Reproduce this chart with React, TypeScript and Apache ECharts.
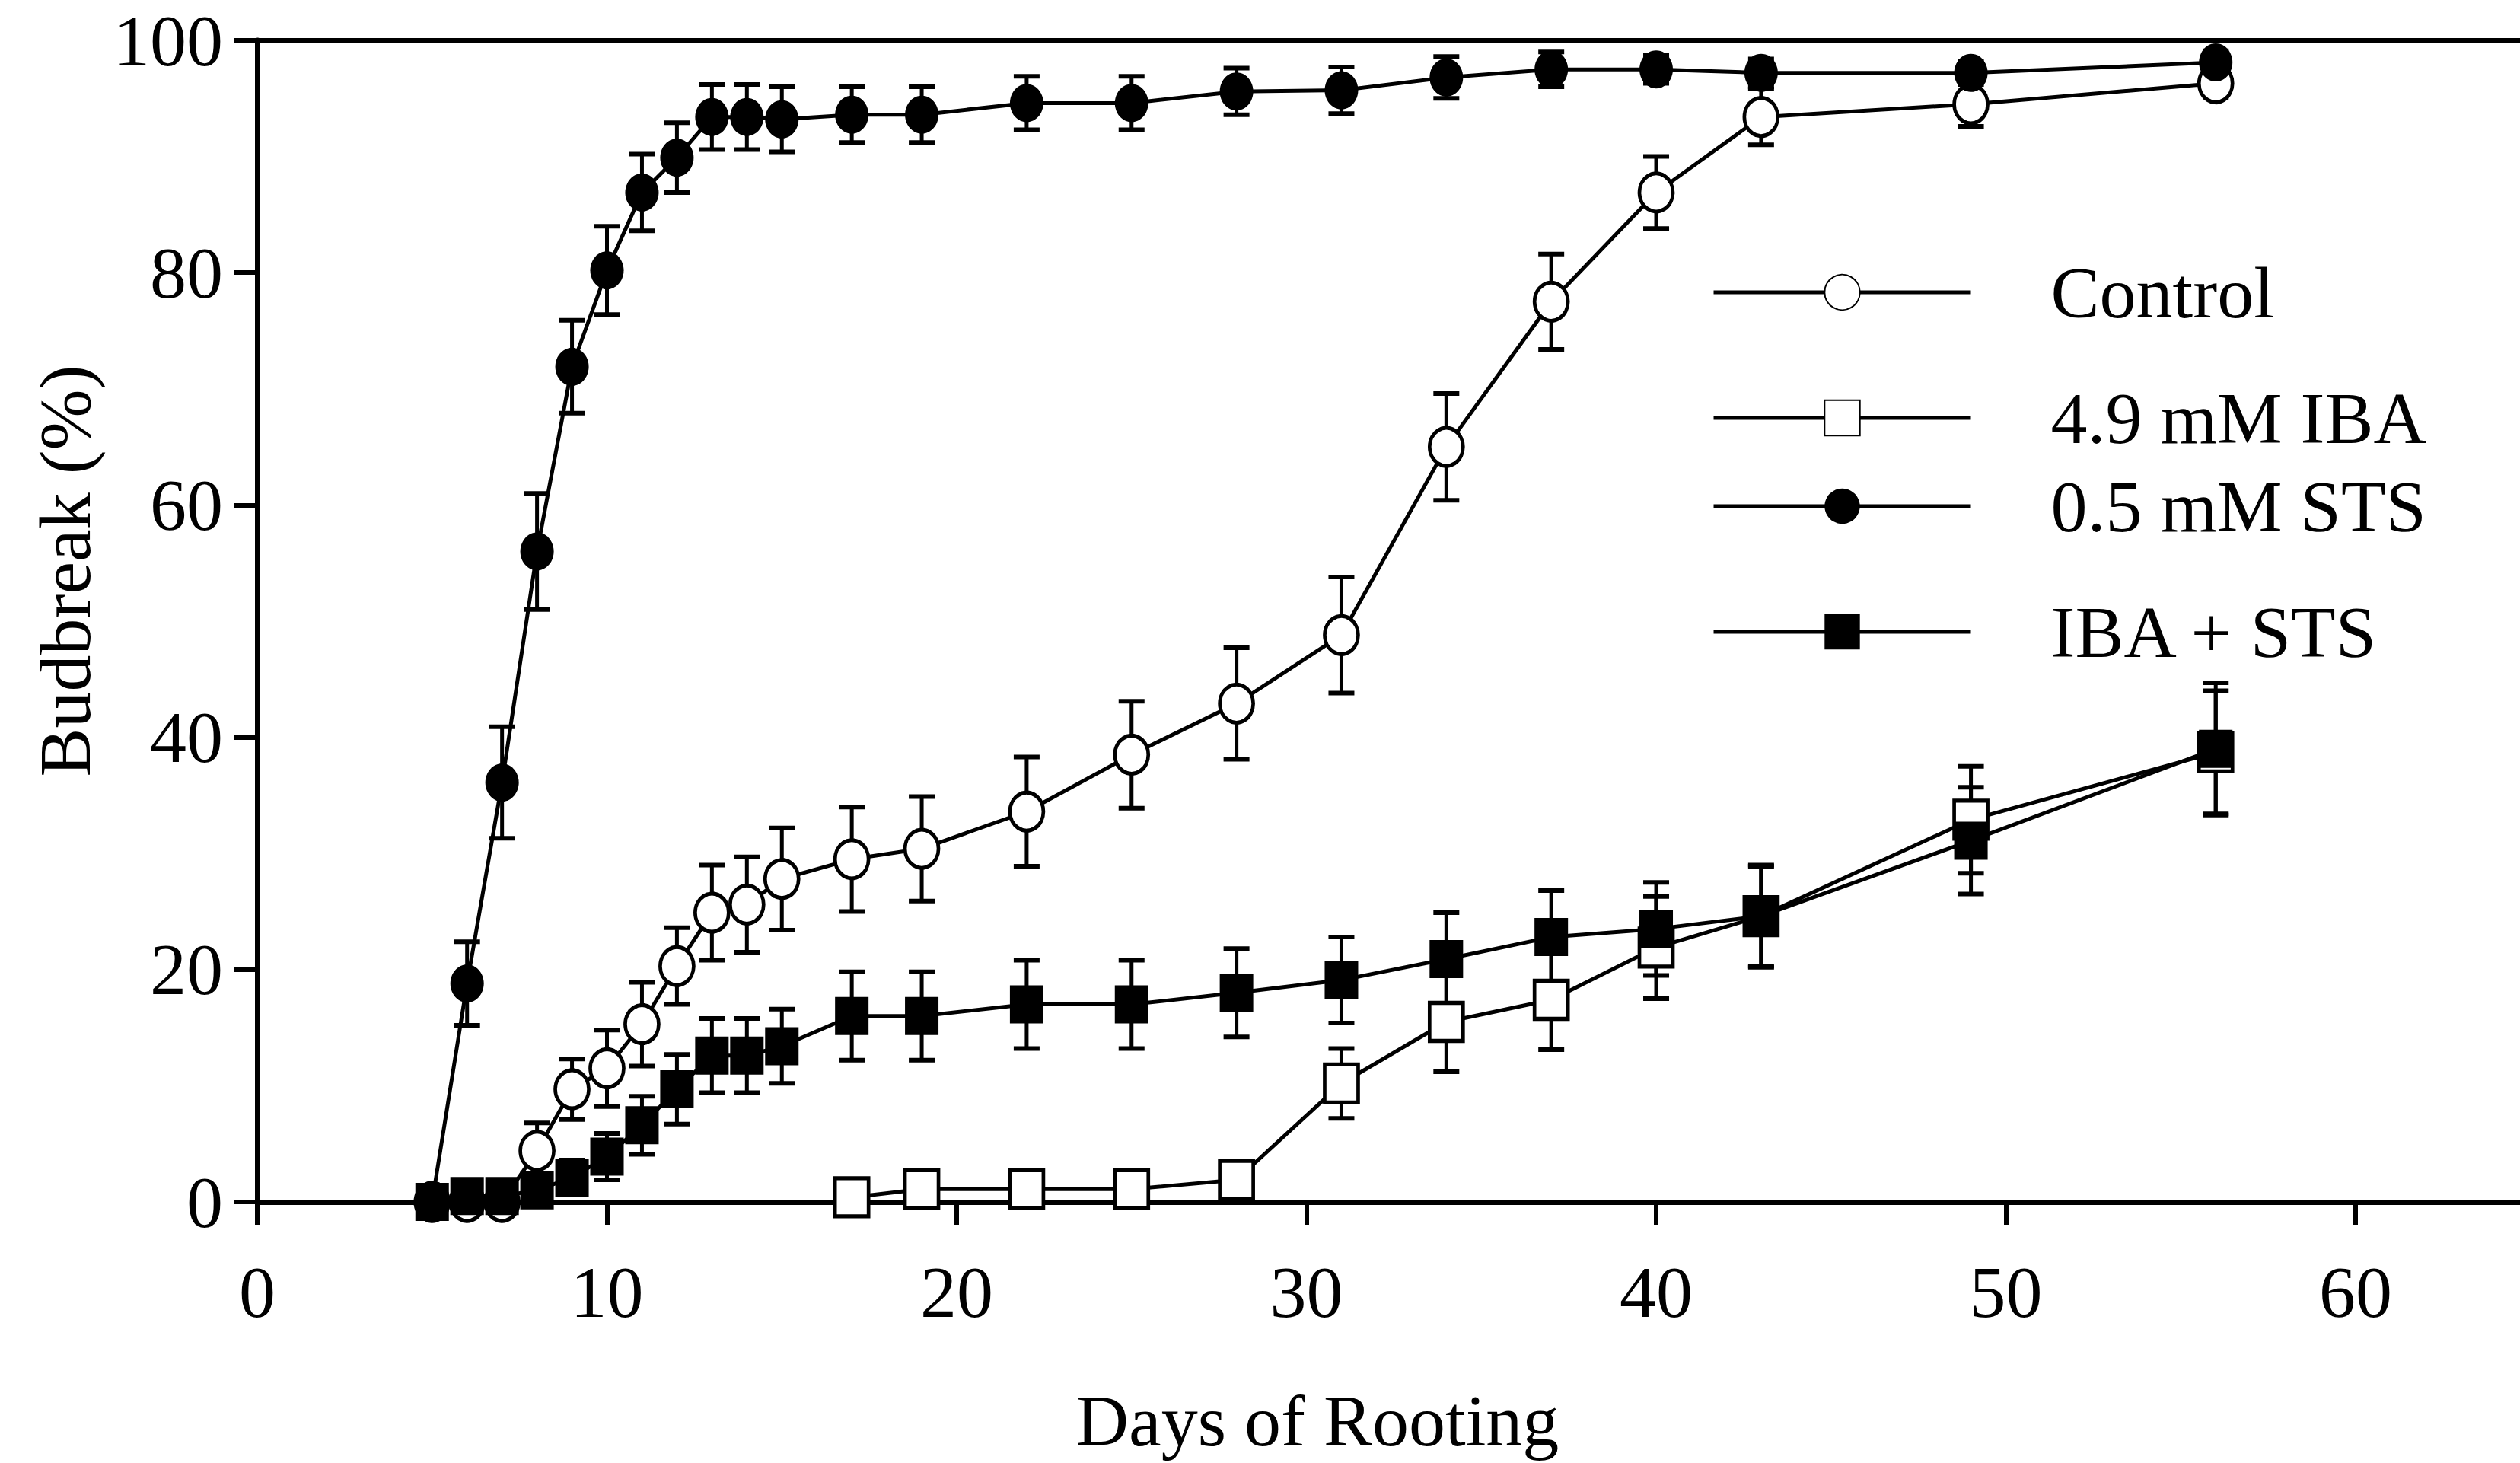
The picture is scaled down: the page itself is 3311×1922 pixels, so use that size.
import React, { useEffect, useRef } from "react";
import * as echarts from "echarts";

const days = [5, 6, 7, 8, 9, 10, 11, 12, 13, 14, 15, 17, 19, 22, 25, 28, 31, 34, 37, 40, 43, 49, 56];
const controlVals = [0, 0, 0, 4.4, 9.7, 11.5, 15.3, 20.3, 24.9, 25.6, 27.8, 29.5, 30.4, 33.6, 38.5, 42.9, 48.8, 65.0, 77.5, 86.9, 93.4, 94.5, 96.3];
const controlErr = [0, 0, 0, 2.4, 2.6, 3.3, 3.6, 3.3, 4.1, 4.1, 4.4, 4.5, 4.5, 4.7, 4.6, 4.8, 5.0, 4.6, 4.1, 3.1, 2.4, 1.9, 1.2];
const stsVals = [0, 18.8, 36.1, 56, 71.9, 80.2, 86.9, 89.9, 93.4, 93.4, 93.2, 93.6, 93.6, 94.6, 94.6, 95.6, 95.7, 96.8, 97.5, 97.5, 97.2, 97.2, 98.1];
const stsErr = [0, 3.6, 4.8, 5, 4, 3.8, 3.3, 3, 2.8, 2.8, 2.8, 2.4, 2.4, 2.3, 2.3, 2, 2, 1.8, 1.5, 1.2, 1.2, 1, 1];
const ibaStsVals = [0, 0.5, 0.5, 1, 2.1, 3.9, 6.6, 9.7, 12.6, 12.6, 13.4, 16.0, 16.0, 17.0, 17.0, 18.0, 19.1, 20.9, 22.8, 23.5, 24.6, 31.1, 39.0];
const ibaStsErr = [0, 0, 0, 0, 1.5, 2, 2.5, 3, 3.2, 3.2, 3.2, 3.8, 3.8, 3.8, 3.8, 3.8, 3.7, 4, 4, 4, 4.4, 4.6, 5.7];
const ibaDays = [17, 19, 22, 25, 28, 31, 34, 37, 40, 43, 49, 56];
const ibaVals = [0.4, 1.1, 1.1, 1.1, 1.9, 10.2, 15.5, 17.4, 21.9, 24.6, 32.9, 38.7];
const ibaErr = [0, 0, 0, 0, 0, 3, 4.3, 4.3, 4.4, 4.3, 4.6, 5.3];

const xTicks = [0, 10, 20, 30, 40, 50, 60];
const seriesNames = ["Control", "4.9 mM IBA", "0.5 mM STS", "IBA + STS"];

const FONT = "'Liberation Serif', 'Times New Roman', serif";

function pts(xs: number[], ys: number[]) {
  return xs.map((x, i) => [x, ys[i]]);
}
function errs(xs: number[], ys: number[], es: number[]) {
  return xs.map((x, i) => [x, ys[i] - es[i], ys[i] + es[i]]).filter((_, i) => es[i] > 0);
}

const errRender = (params: any, api: any) => {
  const x = api.value(0);
  const lo = api.coord([x, api.value(1)]);
  const hi = api.coord([x, api.value(2)]);
  const w = 17;
  const st = { stroke: "#000", lineWidth: 5 };
  return {
    type: "group",
    children: [
      { type: "line", shape: { x1: lo[0], y1: lo[1], x2: hi[0], y2: hi[1] }, style: st },
      { type: "line", shape: { x1: lo[0] - w, y1: lo[1], x2: lo[0] + w, y2: lo[1] }, style: { stroke: "#000", lineWidth: 6 } },
      { type: "line", shape: { x1: hi[0] - w, y1: hi[1], x2: hi[0] + w, y2: hi[1] }, style: { stroke: "#000", lineWidth: 6 } },
    ],
  };
};

export default function App() {
  const ref = useRef<HTMLDivElement>(null);
  useEffect(() => {
    if (!ref.current) return;
    const chart = echarts.init(ref.current, null, { renderer: "svg" });
    const open = { color: "#fff", borderColor: "#000", borderWidth: 5 };
    const filled = { color: "#000", borderColor: "#000", borderWidth: 0 };
    const lineStyle = { color: "#000", width: 5 };
    const symSize = [44, 50];
    const legendRows = [384, 549, 665, 830];
    chart.setOption({
      animation: false,
      backgroundColor: "#fff",
      textStyle: { fontFamily: FONT, color: "#000" },
      grid: { left: 338, right: 0, top: 53, bottom: 343 },
      legend: seriesNames.map((n, i) => ({
        data: [n],
        left: 2249,
        top: legendRows[i] - 48,
        padding: 0,
        itemWidth: 338,
        itemHeight: 58,
        lineStyle: { color: "#000", width: 5 },
        textStyle: { fontFamily: FONT, fontSize: 96, color: "#000", padding: [0, 0, 0, 100] },
        selectedMode: false,
      })),
      xAxis: [
        {
          type: "value",
          min: 0,
          max: 64.7,
          interval: 10,
          position: "bottom",
          splitLine: { show: false },
          axisLine: { onZero: false, lineStyle: { color: "#000", width: 7 } },
          axisTick: { customValues: xTicks, length: 30, lineStyle: { color: "#000", width: 6 } },
          axisLabel: { customValues: xTicks, margin: 70, fontSize: 96, fontFamily: FONT, color: "#000" },
        },
        {
          type: "value",
          min: 0,
          max: 64.7,
          position: "top",
          splitLine: { show: false },
          axisLine: { onZero: false, lineStyle: { color: "#000", width: 6 } },
          axisTick: { show: false },
          axisLabel: { show: false },
        },
      ],
      yAxis: {
        type: "value",
        min: 0,
        max: 100,
        interval: 20,
        splitLine: { show: false },
        axisLine: { onZero: false, lineStyle: { color: "#000", width: 7 } },
        axisTick: { length: 30, lineStyle: { color: "#000", width: 6 } },
        axisLabel: { margin: 45, fontSize: 96, fontFamily: FONT, color: "#000" },
      },
      graphic: [
        {
          type: "text",
          x: 85,
          y: 750,
          rotation: Math.PI / 2,
          style: { text: "Budbreak (%)", font: `96px ${FONT}`, fill: "#000", align: "center", verticalAlign: "middle" },
        },
        {
          type: "text",
          x: 1731,
          y: 1866,
          style: { text: "Days of Rooting", font: `96px ${FONT}`, fill: "#000", align: "center", verticalAlign: "middle" },
        },
      ],
      series: [
        { type: "custom", renderItem: errRender, data: errs(days, controlVals, controlErr), encode: { x: 0, y: [1, 2] }, z: 1 },
        { type: "custom", renderItem: errRender, data: errs(ibaDays, ibaVals, ibaErr), encode: { x: 0, y: [1, 2] }, z: 1 },
        { type: "custom", renderItem: errRender, data: errs(days, stsVals, stsErr), encode: { x: 0, y: [1, 2] }, z: 1 },
        { type: "custom", renderItem: errRender, data: errs(days, ibaStsVals, ibaStsErr), encode: { x: 0, y: [1, 2] }, z: 1 },
        { name: "4.9 mM IBA", type: "line", data: pts(ibaDays, ibaVals), symbol: "rect", symbolSize: symSize, itemStyle: open, lineStyle, z: 3 },
        { name: "Control", type: "line", data: pts(days, controlVals), symbol: "circle", symbolSize: symSize, itemStyle: open, lineStyle, z: 4 },
        { name: "IBA + STS", type: "line", data: pts(days, ibaStsVals), symbol: "rect", symbolSize: symSize, itemStyle: filled, lineStyle, z: 5 },
        { name: "0.5 mM STS", type: "line", data: pts(days, stsVals), symbol: "circle", symbolSize: symSize, itemStyle: filled, lineStyle, z: 6 },
      ],
    });
    return () => chart.dispose();
  }, []);
  return (
    <div
      ref={ref}
      style={{ position: "absolute", left: 0, top: 0, width: 3311, height: 1922, background: "#fff" }}
    />
  );
}
